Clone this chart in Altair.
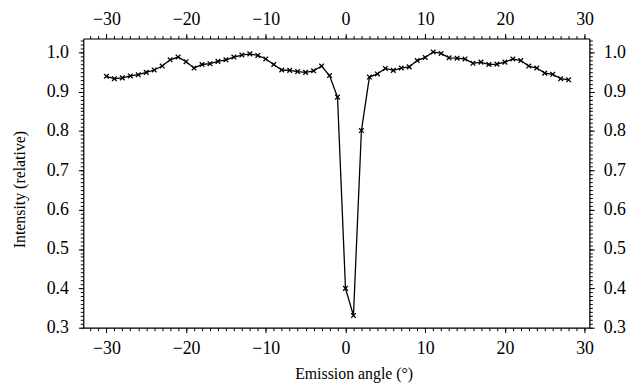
import altair as alt
import pandas as pd

angles = list(range(-30, 29))
intensity = [
    0.939, 0.933, 0.935, 0.940, 0.943, 0.949, 0.955, 0.965, 0.981, 0.988,
    0.976, 0.960, 0.969, 0.971, 0.977, 0.981, 0.988, 0.993, 0.996, 0.992,
    0.983, 0.969, 0.955, 0.954, 0.951, 0.949, 0.953, 0.965, 0.941, 0.886,
    0.400, 0.331, 0.801, 0.937, 0.945, 0.959, 0.954, 0.960, 0.963, 0.979,
    0.987, 1.001, 0.997, 0.986, 0.985, 0.983, 0.972, 0.975, 0.969, 0.970,
    0.975, 0.983, 0.979, 0.965, 0.960, 0.947, 0.944, 0.933, 0.930,
]
x_major = [-30, -20, -10, 0, 10, 20, 30]
y_major = [0.3, 0.4, 0.5, 0.6, 0.7, 0.8, 0.9, 1.0]
x_minor = list(range(-32, 31))
y_minor = [round(0.30 + 0.01 * i, 2) for i in range(74)]

df = pd.DataFrame({"angle": angles, "intensity": intensity})

FONT = "Liberation Serif"
xs = alt.Scale(domain=[-32.9, 30.6], nice=False, zero=False)
ys = alt.Scale(domain=[0.3, 1.035], nice=False, zero=False)

common = dict(labelFont=FONT, labelFontSize=18, labelColor="black",
              tickColor="black", domainColor="black", titleFont=FONT,
              titleColor="black", titleFontWeight="normal", grid=False)

def major(orient, values, fmt, pad, title=None, **kw):
    args = dict(common)
    args.update(orient=orient, values=values, format=fmt, tickSize=5,
                tickWidth=1, domainWidth=1.2, labelPadding=pad, labelFlush=False,
                labelOverlap=False)
    if title is not None:
        args.update(title=title)
    else:
        args.update(title=None)
    args.update(kw)
    return alt.Axis(**args)

def minor(orient, values):
    return alt.Axis(orient=orient, values=values, tickSize=3, tickWidth=1,
                    tickColor="black", labels=False, domain=False, grid=False,
                    title=None)

base = alt.Chart(df)

line = base.mark_line(color="black", strokeWidth=1.3).encode(
    x=alt.X("angle:Q", scale=xs,
            axis=major("bottom", x_major, "d", 7, "Emission angle (°)",
                       titleFontSize=16, titleX=273, titleY=51,
                       titleBaseline="alphabetic", titleAnchor="middle")),
    y=alt.Y("intensity:Q", scale=ys,
            axis=major("left", y_major, ".1f", 10, "Intensity (relative)",
                       titleFontSize=16, titleX=-64, titleY=152,
                       titleBaseline="middle", titleAngle=270)),
)

pts = base.mark_point(
    shape="M-1,-1L1,1M-1,1L1,-1", size=22, filled=False,
    stroke="black", strokeWidth=1.3, opacity=1,
).encode(
    x=alt.X("angle:Q", scale=xs, axis=major("top", x_major, "d", 5)),
    y=alt.Y("intensity:Q", scale=ys, axis=major("right", y_major, ".1f", 9)),
)

minor1 = base.mark_point(opacity=0).encode(
    x=alt.X("angle:Q", scale=xs, axis=minor("bottom", x_minor)),
    y=alt.Y("intensity:Q", scale=ys, axis=minor("left", y_minor)),
)
minor2 = base.mark_point(opacity=0).encode(
    x=alt.X("angle:Q", scale=xs, axis=minor("top", x_minor)),
    y=alt.Y("intensity:Q", scale=ys, axis=minor("right", y_minor)),
)

chart = alt.layer(line, pts, minor1, minor2).resolve_axis(
    x="independent", y="independent"
).properties(
    width=511, height=292,
    autosize=alt.AutoSizeParams(type="none"),
    padding={"left": 76, "top": 29, "right": 38, "bottom": 55},
).configure_view(stroke=None).configure(background="white")

chart.save("out.html", embed_options={"renderer": "svg", "actions": False})
